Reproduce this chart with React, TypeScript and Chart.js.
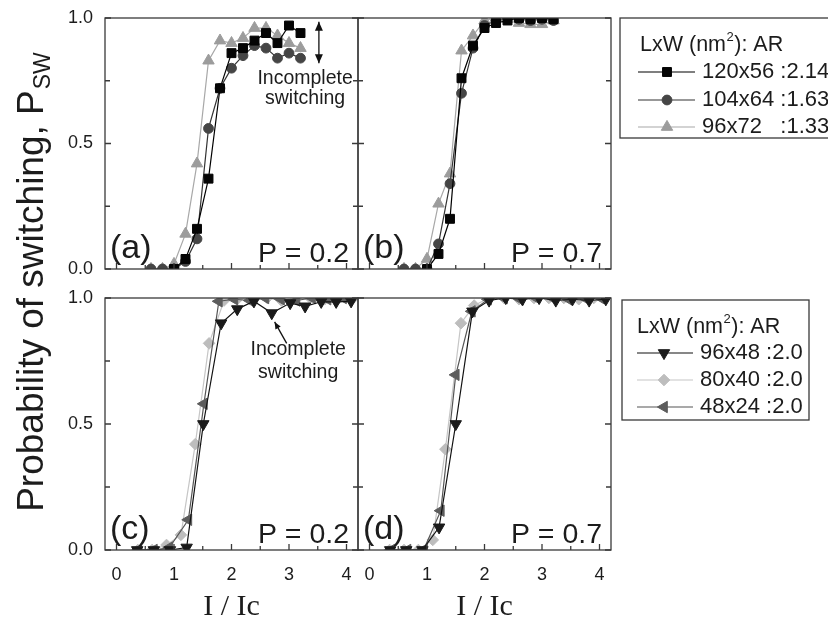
import React, { useEffect, useRef } from 'react';
import { Chart, registerables } from 'chart.js';
import { drawPoint } from 'chart.js/helpers';

Chart.register(...registerables);

const PAGE_W = 828;
const PAGE_H = 626;
const SANS = '"Liberation Sans", Arial, Helvetica, sans-serif';
const SERIF = '"Liberation Serif", "Times New Roman", serif';
const INK = '#1c1c1c';
const FRAME = '#3a3a3a';

const X_MIN = -0.2;
const X_MAX = 4.2;
const X_TICKS = [0, 1, 2, 3, 4];
const X_MINOR = [0.5, 1.5, 2.5, 3.5];
const Y_TICKS = [0, 0.5, 1];
const Y_MINOR = [0.25, 0.75];

// ---- (a) P = 0.2 ----
const a120x56X = [1.0, 1.2, 1.4, 1.6, 1.8, 2.0, 2.2, 2.4, 2.6, 2.8, 3.0, 3.2];
const a120x56Y = [0, 0.04, 0.16, 0.36, 0.72, 0.86, 0.88, 0.91, 0.94, 0.9, 0.97, 0.94];
const a104x64X = [0.6, 0.8, 1.0, 1.2, 1.4, 1.6, 1.8, 2.0, 2.2, 2.4, 2.6, 2.8, 3.0, 3.2];
const a104x64Y = [0, 0, 0, 0.03, 0.12, 0.56, 0.72, 0.8, 0.85, 0.89, 0.88, 0.84, 0.86, 0.84];
const a96x72X = [0.6, 0.8, 1.0, 1.2, 1.4, 1.6, 1.8, 2.0, 2.2, 2.4, 2.6, 2.8, 3.0, 3.2];
const a96x72Y = [0, 0, 0.02, 0.14, 0.42, 0.83, 0.91, 0.9, 0.92, 0.96, 0.96, 0.93, 0.9, 0.88];

// ---- (b) P = 0.7 ----
const b120x56X = [1.0, 1.2, 1.4, 1.6, 1.8, 2.0, 2.2, 2.4, 2.6, 2.8, 3.0, 3.2];
const b120x56Y = [0, 0.06, 0.2, 0.76, 0.89, 0.96, 0.98, 0.99, 1.0, 0.995, 1.0, 0.995];
const b104x64X = [0.6, 0.8, 1.0, 1.2, 1.4, 1.6, 1.8, 2.0, 2.2, 2.4, 2.6, 2.8, 3.0, 3.2];
const b104x64Y = [0, 0, 0, 0.1, 0.34, 0.7, 0.88, 0.97, 0.99, 1.0, 0.995, 0.99, 0.995, 0.99];
const b96x72X = [0.6, 0.8, 1.0, 1.2, 1.4, 1.6, 1.8, 2.0, 2.2, 2.4, 2.6, 2.8, 3.0, 3.2];
const b96x72Y = [0, 0, 0.04, 0.26, 0.38, 0.87, 0.93, 0.99, 1.0, 0.995, 0.98, 0.975, 0.975, 0.99];

// ---- (c) P = 0.2 ----
const c96x48X = [0.36, 0.65, 0.93, 1.22, 1.51, 1.82, 2.1, 2.39, 2.7, 3.02, 3.28, 3.56, 3.82, 4.08];
const c96x48Y = [0, 0, 0, 0.01, 0.5, 0.9, 0.956, 0.987, 0.94, 0.98, 0.967, 0.985, 0.985, 0.987];
const c80x40X = [0.37, 0.62, 0.87, 1.12, 1.37, 1.61, 1.87, 2.12, 2.37, 2.62, 2.87, 3.12, 3.37, 3.62, 3.87, 4.12];
const c80x40Y = [0, 0, 0.02, 0.06, 0.42, 0.82, 0.99, 1.0, 0.995, 1.0, 0.99, 1.0, 1.0, 0.995, 1.0, 1.0];
const c48x24X = [0.38, 0.65, 0.92, 1.25, 1.52, 1.78, 2.05, 2.32, 2.59, 2.86, 3.13, 3.4, 3.67, 3.94];
const c48x24Y = [0, 0, 0.01, 0.12, 0.58, 0.987, 0.995, 0.99, 1.0, 0.995, 0.99, 1.0, 0.995, 1.0];

// ---- (d) P = 0.7 ----
const d96x48X = [0.36, 0.64, 0.92, 1.21, 1.5, 1.79, 2.08, 2.37, 2.66, 2.95, 3.24, 3.53, 3.82, 4.11];
const d96x48Y = [0, 0, 0, 0.09, 0.5, 0.947, 0.99, 1.0, 0.995, 1.0, 0.99, 0.995, 0.99, 0.995];
const d80x40X = [0.35, 0.6, 0.85, 1.1, 1.32, 1.59, 1.82, 2.08, 2.34, 2.6, 2.86, 3.12, 3.38, 3.64, 3.9];
const d80x40Y = [0, 0, 0, 0.04, 0.4, 0.9, 0.97, 1.0, 1.0, 0.995, 1.0, 1.0, 1.0, 0.995, 1.0];
const d48x24X = [0.38, 0.66, 0.94, 1.24, 1.5, 1.78, 2.06, 2.34, 2.62, 2.9, 3.18, 3.46, 3.74, 4.02];
const d48x24Y = [0, 0, 0, 0.156, 0.695, 0.947, 0.995, 1.0, 0.995, 1.0, 1.0, 0.995, 1.0, 1.0];

const TOP_LEGEND = ['120x56 :2.14', '104x64 :1.63', '96x72   :1.33'];
const BOTTOM_LEGEND = ['96x48 :2.0', '80x40 :2.0', '48x24 :2.0'];

type Style = { pointStyle: string; rotation: number; radius: number; fill: string; line: string };

const S_SQ: Style = { pointStyle: 'rect', rotation: 0, radius: 6.3, fill: '#050505', line: '#000000' };
const S_CI: Style = { pointStyle: 'circle', rotation: 0, radius: 4.9, fill: '#454545', line: '#333333' };
const S_TU: Style = { pointStyle: 'triangle', rotation: 0, radius: 6.6, fill: '#9c9c9c', line: '#a8a8a8' };
const S_TD: Style = { pointStyle: 'triangle', rotation: 180, radius: 6.6, fill: '#1a1a1a', line: '#111111' };
const S_DI: Style = { pointStyle: 'rectRot', rotation: 0, radius: 5.8, fill: '#bdbdbd', line: '#c6c6c6' };
const S_TL: Style = { pointStyle: 'triangle', rotation: 270, radius: 6.6, fill: '#5c5c5c', line: '#555555' };

type Series = { xs: number[]; ys: number[]; st: Style };
type Area = { l: number; t: number; r: number; b: number };
type Note = { text: [string, string]; tx: number; ty1: number; ty2: number; arrow: number[]; double: boolean };
type LegendSpec = { x: number; y: number; w: number; h: number; tx: number; ty: number; rows: number[]; l1: number; l2: number; mk: number; txt: number; items: string[]; styles: Style[] };

type PanelSpec = {
  key: string;
  area: Area;
  series: Series[];
  showX: boolean;
  showY: boolean;
  tag: string;
  pLabel: string;
  note?: Note;
  legend?: LegendSpec;
  yTitle?: boolean;
  xTitle?: boolean;
};

function mkDataset(s: Series) {
  return {
    data: s.xs.map((x, i) => ({ x, y: s.ys[i] })),
    borderColor: s.st.line,
    backgroundColor: s.st.fill,
    pointBackgroundColor: s.st.fill,
    pointBorderColor: s.st.fill,
    pointStyle: s.st.pointStyle,
    pointRotation: s.st.rotation,
    pointRadius: s.st.radius,
    pointBorderWidth: 1,
    borderWidth: 1.2,
    tension: 0,
    clip: 0,
  };
}

function arrowHead(ctx: CanvasRenderingContext2D, x1: number, y1: number, x2: number, y2: number, len = 8, half = 3.5) {
  const ang = Math.atan2(y2 - y1, x2 - x1);
  ctx.beginPath();
  ctx.moveTo(x2, y2);
  ctx.lineTo(x2 - len * Math.cos(ang) + half * Math.sin(ang), y2 - len * Math.sin(ang) - half * Math.cos(ang));
  ctx.lineTo(x2 - len * Math.cos(ang) - half * Math.sin(ang), y2 - len * Math.sin(ang) + half * Math.cos(ang));
  ctx.closePath();
  ctx.fill();
}

function drawLegend(ctx: CanvasRenderingContext2D, L: LegendSpec) {
  ctx.save();
  ctx.strokeStyle = FRAME;
  ctx.lineWidth = 1.3;
  ctx.strokeRect(L.x, L.y, L.w, L.h);
  ctx.fillStyle = INK;
  ctx.textAlign = 'left';
  ctx.textBaseline = 'middle';
  let x = L.x + L.tx;
  const ty = L.y + L.ty;
  ctx.font = `21.5px ${SANS}`;
  ctx.fillText('LxW (nm', x, ty);
  x += ctx.measureText('LxW (nm').width + 0.5;
  ctx.font = `13px ${SANS}`;
  ctx.fillText('2', x, ty - 8);
  x += ctx.measureText('2').width + 0.5;
  ctx.font = `21.5px ${SANS}`;
  ctx.fillText('): AR', x, ty);
  L.items.forEach((txt, i) => {
    const y = L.y + L.rows[i];
    const st = L.styles[i];
    ctx.strokeStyle = st.line;
    ctx.lineWidth = 1.2;
    ctx.beginPath();
    ctx.moveTo(L.x + L.l1, y);
    ctx.lineTo(L.x + L.l2, y);
    ctx.stroke();
    ctx.fillStyle = st.fill;
    ctx.strokeStyle = st.fill;
    ctx.lineWidth = 1;
    drawPoint(ctx, { pointStyle: st.pointStyle as any, rotation: st.rotation, radius: st.radius, borderWidth: 1 } as any, L.x + L.mk, y);
    ctx.fillStyle = INK;
    ctx.font = `22px ${SANS}`;
    ctx.fillText(txt, L.x + L.txt, y);
  });
  ctx.restore();
}

function overlay(p: PanelSpec) {
  return {
    id: 'overlay_' + p.key,
    afterDatasetsDraw(chart: any) {
      const { ctx, chartArea: a, scales } = chart;
      const xs = scales.x;
      const ys = scales.y;
      ctx.save();
      // frame
      ctx.strokeStyle = FRAME;
      ctx.lineWidth = 1.3;
      ctx.strokeRect(a.left, a.top, a.right - a.left, a.bottom - a.top);
      ctx.beginPath();
      X_TICKS.forEach((v) => {
        const px = xs.getPixelForValue(v);
        ctx.moveTo(px, a.bottom);
        ctx.lineTo(px, a.bottom - 6);
      });
      X_MINOR.forEach((v) => {
        const px = xs.getPixelForValue(v);
        ctx.moveTo(px, a.bottom);
        ctx.lineTo(px, a.bottom - 4);
      });
      [...Y_TICKS, ...Y_MINOR].forEach((v) => {
        const py = ys.getPixelForValue(v);
        const len = Y_TICKS.includes(v) ? 6 : 5;
        ctx.moveTo(a.left, py);
        ctx.lineTo(a.left + len, py);
        ctx.moveTo(a.right, py);
        ctx.lineTo(a.right - len, py);
      });
      ctx.stroke();

      // panel labels
      ctx.fillStyle = INK;
      ctx.textBaseline = 'alphabetic';
      ctx.textAlign = 'left';
      ctx.font = `34px ${SANS}`;
      ctx.fillText(p.tag, a.left + 5, a.bottom - 11);
      ctx.textAlign = 'right';
      ctx.font = `28.5px ${SANS}`;
      ctx.fillText(p.pLabel, a.right - 9, a.bottom - 7);

      // notes
      if (p.note) {
        const n = p.note;
        ctx.textAlign = 'center';
        ctx.textBaseline = 'middle';
        ctx.font = `19.5px ${SANS}`;
        ctx.fillText(n.text[0], xs.getPixelForValue(n.tx), ys.getPixelForValue(n.ty1));
        ctx.fillText(n.text[1], xs.getPixelForValue(n.tx), ys.getPixelForValue(n.ty2));
        const [ax1, ay1, ax2, ay2] = n.arrow;
        const x1 = xs.getPixelForValue(ax1), y1 = ys.getPixelForValue(ay1);
        const x2 = xs.getPixelForValue(ax2), y2 = ys.getPixelForValue(ay2);
        ctx.strokeStyle = '#111';
        ctx.fillStyle = '#111';
        ctx.lineWidth = 1.3;
        ctx.beginPath();
        ctx.moveTo(x1, y1);
        ctx.lineTo(x2, y2);
        ctx.stroke();
        if (n.double) {
          arrowHead(ctx, x1, y1, x2, y2, 9, 4);
          arrowHead(ctx, x2, y2, x1, y1, 9, 4);
        } else {
          arrowHead(ctx, x1, y1, x2, y2, 7, 3);
        }
      }

      if (p.legend) drawLegend(ctx, p.legend);

      if (p.xTitle) {
        ctx.fillStyle = INK;
        ctx.textAlign = 'center';
        ctx.textBaseline = 'alphabetic';
        ctx.font = `30px ${SERIF}`;
        ctx.fillText('I / Ic', (a.left + a.right) / 2, 615);
      }

      if (p.yTitle) {
        ctx.fillStyle = INK;
        ctx.translate(43, 282);
        ctx.rotate(-Math.PI / 2);
        const main = 'Probability of switching, P';
        ctx.font = `23px ${SANS}`;
        const subW = ctx.measureText('SW').width;
        ctx.font = `37px ${SANS}`;
        const mainW = ctx.measureText(main).width;
        const total = mainW + subW + 1;
        ctx.textAlign = 'left';
        ctx.textBaseline = 'alphabetic';
        ctx.fillText(main, -total / 2, 0);
        ctx.font = `23px ${SANS}`;
        ctx.fillText('SW', -total / 2 + mainW + 1, 7);
      }
      ctx.restore();
    },
  };
}

function buildConfig(p: PanelSpec): any {
  const yW = p.showY ? 44 : 0;
  const xH = p.showX ? 44 : 0;
  return {
    type: 'line',
    data: { datasets: p.series.map(mkDataset) },
    options: {
      animation: false,
      responsive: false,
      maintainAspectRatio: false,
      events: [],
      layout: {
        padding: {
          left: p.area.l - yW,
          top: p.area.t,
          right: PAGE_W - p.area.r,
          bottom: PAGE_H - p.area.b - xH,
        },
      },
      plugins: { legend: { display: false }, tooltip: { enabled: false } },
      scales: {
        x: {
          type: 'linear',
          min: X_MIN,
          max: X_MAX,
          grid: { display: false },
          border: { display: false },
          ticks: { display: p.showX, color: INK, font: { family: SANS, size: 18 }, padding: 6 },
          afterBuildTicks: (s: any) => {
            s.ticks = X_TICKS.map((v) => ({ value: v }));
          },
          afterFit: (s: any) => {
            s.height = xH;
          },
        },
        y: {
          type: 'linear',
          min: 0,
          max: 1,
          grid: { display: false },
          border: { display: false },
          ticks: {
            display: p.showY,
            color: INK,
            font: { family: SANS, size: 18 },
            padding: 4,
            callback: (v: any) => Number(v).toFixed(1),
          },
          afterBuildTicks: (s: any) => {
            s.ticks = Y_TICKS.map((v) => ({ value: v }));
          },
          afterFit: (s: any) => {
            s.width = yW;
          },
        },
      },
    },
    plugins: [overlay(p)],
  };
}

const PANELS: PanelSpec[] = [
  {
    key: 'a',
    area: { l: 105, t: 18, r: 358, b: 269 },
    series: [
      { xs: a120x56X, ys: a120x56Y, st: S_SQ },
      { xs: a104x64X, ys: a104x64Y, st: S_CI },
      { xs: a96x72X, ys: a96x72Y, st: S_TU },
    ],
    showX: false,
    showY: true,
    tag: '(a)',
    pLabel: 'P = 0.2',
    note: { text: ['Incomplete', 'switching'], tx: 3.28, ty1: 0.757, ty2: 0.68, arrow: [3.52, 0.985, 3.52, 0.82], double: true },
    yTitle: true,
  },
  {
    key: 'b',
    area: { l: 358, t: 18, r: 611, b: 269 },
    series: [
      { xs: b120x56X, ys: b120x56Y, st: S_SQ },
      { xs: b104x64X, ys: b104x64Y, st: S_CI },
      { xs: b96x72X, ys: b96x72Y, st: S_TU },
    ],
    showX: false,
    showY: false,
    tag: '(b)',
    pLabel: 'P = 0.7',
    legend: {
      x: 620, y: 18, w: 230, h: 120, tx: 20, ty: 27, rows: [54, 82, 109], l1: 18, l2: 75, mk: 47, txt: 82,
      items: TOP_LEGEND, styles: [S_SQ, S_CI, S_TU],
    },
  },
  {
    key: 'c',
    area: { l: 105, t: 298, r: 358, b: 550 },
    series: [
      { xs: c96x48X, ys: c96x48Y, st: S_TD },
      { xs: c48x24X, ys: c48x24Y, st: S_TL },
      { xs: c80x40X, ys: c80x40Y, st: S_DI },
    ],
    showX: true,
    showY: true,
    tag: '(c)',
    pLabel: 'P = 0.2',
    note: { text: ['Incomplete', 'switching'], tx: 3.16, ty1: 0.794, ty2: 0.702, arrow: [2.96, 0.82, 2.75, 0.905], double: false },
    xTitle: true,
  },
  {
    key: 'd',
    area: { l: 358, t: 298, r: 611, b: 550 },
    series: [
      { xs: d96x48X, ys: d96x48Y, st: S_TD },
      { xs: d48x24X, ys: d48x24Y, st: S_TL },
      { xs: d80x40X, ys: d80x40Y, st: S_DI },
    ],
    showX: true,
    showY: false,
    tag: '(d)',
    pLabel: 'P = 0.7',
    legend: {
      x: 622, y: 300, w: 187, h: 120, tx: 15, ty: 27, rows: [53, 80, 107], l1: 15, l2: 71, mk: 42, txt: 78,
      items: BOTTOM_LEGEND, styles: [S_TD, S_DI, S_TL],
    },
    xTitle: true,
  },
];

function Panel({ spec }: { spec: PanelSpec }) {
  const ref = useRef<HTMLCanvasElement>(null);
  useEffect(() => {
    const chart = new Chart(ref.current as HTMLCanvasElement, buildConfig(spec));
    return () => chart.destroy();
  }, [spec]);
  return (
    <canvas
      ref={ref}
      width={PAGE_W}
      height={PAGE_H}
      style={{ position: 'absolute', left: 0, top: 0, width: PAGE_W, height: PAGE_H }}
    />
  );
}

export default function App() {
  return (
    <div style={{ position: 'absolute', left: 0, top: 0, width: PAGE_W, height: PAGE_H, background: '#ffffff', overflow: 'hidden' }}>
      {PANELS.map((p) => (
        <Panel key={p.key} spec={p} />
      ))}
    </div>
  );
}
